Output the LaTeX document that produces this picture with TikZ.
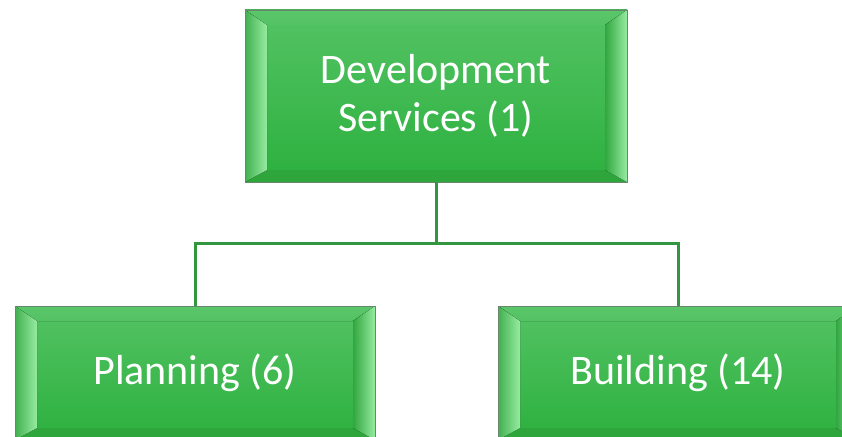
\documentclass[tikz,border=0pt]{standalone}
\usepackage{fontspec}
\setmainfont{Carlito}
\usetikzlibrary{calc}
\definecolor{gtop}{RGB}{84,195,100}
\definecolor{gbot}{RGB}{44,176,62}
\definecolor{gtopbev}{RGB}{90,198,106}
\definecolor{gbotbev}{RGB}{46,166,60}
\definecolor{glight}{RGB}{150,236,160}
\definecolor{gmid}{RGB}{66,176,80}
\definecolor{gdark}{RGB}{50,166,64}
\definecolor{gborder}{RGB}{105,135,108}
\definecolor{conncol}{RGB}{50,150,64}
\tikzset{
  bevelbox/.style={rectangle, draw=gborder, line width=0.8pt, outer sep=0pt, inner sep=0pt,
    top color=gtop, bottom color=gbot, text=white, align=center,
    font=\fontsize{42}{48}\selectfont,
    path picture={
      \coordinate (NW) at (path picture bounding box.north west);
      \coordinate (NE) at (path picture bounding box.north east);
      \coordinate (SW) at (path picture bounding box.south west);
      \coordinate (SE) at (path picture bounding box.south east);
      \fill[top color=gtopbev, bottom color=gtop] (NW) -- (NE) -- ($(NE)+(-22pt,-15pt)$) -- ($(NW)+(22pt,-15pt)$) -- cycle;
      \fill[gbotbev] (SW) -- (SE) -- ($(SE)+(-22pt,12pt)$) -- ($(SW)+(22pt,12pt)$) -- cycle;
      \fill[left color=gmid, right color=glight] (NW) -- ($(NW)+(22pt,-15pt)$) -- ($(SW)+(22pt,12pt)$) -- (SW) -- cycle;
      \fill[left color=gdark, right color=glight] (NE) -- ($(NE)+(-22pt,-15pt)$) -- ($(SE)+(-22pt,12pt)$) -- (SE) -- cycle;
    }},
  conn/.style={draw=conncol, line width=3pt}
}
\begin{document}
\begin{tikzpicture}[x=1pt,y=-1pt]
\useasboundingbox (0,0) rectangle (842,436);
\node[bevelbox, minimum width=382pt, minimum height=172pt] (top) at (436,96) {Development\\Services (1)};
\node[bevelbox, minimum width=360pt, minimum height=134pt] (plan) at (195,373) {Planning (6)};
\node[bevelbox, minimum width=360pt, minimum height=134pt] (build) at (678,373) {Building (14)};
\coordinate (j) at (436,243);
\draw[conn] (top.south) -- (j);
\draw[conn] (plan.north) |- (j) -| (build.north);
\end{tikzpicture}
\end{document}
